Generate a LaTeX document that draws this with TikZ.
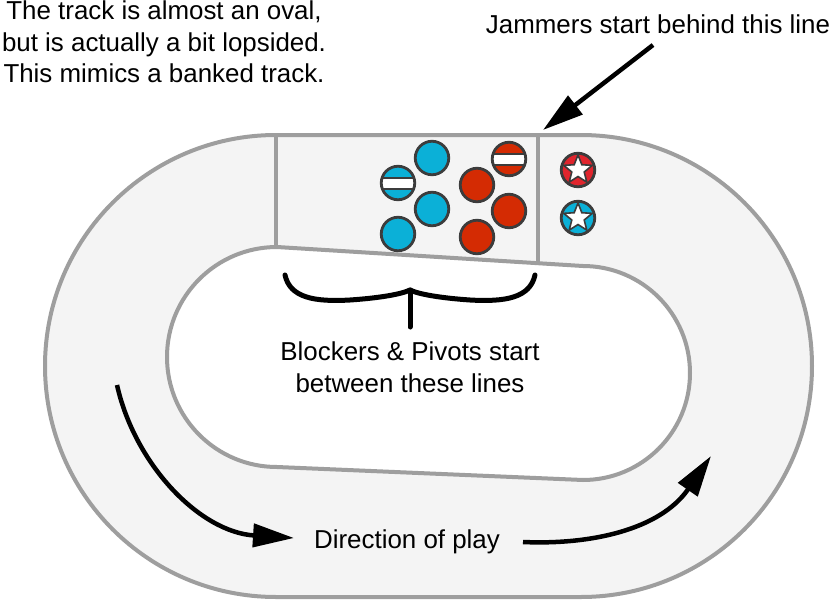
\documentclass[tikz,border=0pt]{standalone}
\usepackage{fontspec}
\setmainfont{Liberation Sans}
\usetikzlibrary{arrows.meta,shapes.geometric}
\definecolor{trackgray}{HTML}{9E9E9E}
\definecolor{trackfill}{HTML}{F4F4F4}
\definecolor{pblue}{HTML}{0BB0D7}
\definecolor{pred}{HTML}{D42B03}
\definecolor{jred}{HTML}{E0252D}
\definecolor{outl}{HTML}{3C3C3C}
\tikzset{
  trackline/.style={draw=trackgray, line width=4pt, line join=round},
  player/.style={circle, draw=outl, line width=2.8pt, minimum size=33.5pt, inner sep=0pt},
  blueblk/.style={player, fill=pblue},
  redblk/.style={player, fill=pred},
  pivotstripe/.style={path picture={
      \fill[white, draw=outl, line width=2pt]
        ([xshift=-22pt,yshift=-5.5pt]path picture bounding box.center) rectangle
        ([xshift=22pt,yshift=5.5pt]path picture bounding box.center);}},
  jamstar/.style={path picture={
      \node[star, star points=5, star point ratio=2.3, fill=white, draw=outl,
        line width=1.6pt, minimum size=30pt, inner sep=0pt]
        at (path picture bounding box.center) {};}},
  bigarrow/.style={line width=4.5pt, -{Triangle[length=41pt,width=23pt]}},
  bracestroke/.style={line width=5pt, line cap=round, line join=round},
  labeltext/.style={font=\fontsize{25.9pt}{31.7pt}\selectfont, inner sep=0pt, align=center}
}
\begin{document}
\begin{tikzpicture}[x=1pt,y=-1pt]
\useasboundingbox (0,0) rectangle (831,600);
% track
\draw[trackline, fill=trackfill] (276,135) arc[start angle=270,end angle=90,radius=231]
  -- (581,597) arc[start angle=90,end angle=-90,radius=231] -- cycle;
\draw[trackline, fill=white] (277,247) arc[start angle=270,end angle=90,radius=110]
  -- (583,480) arc[start angle=90,end angle=-90,radius=107] -- cycle;
% start lines
\draw[trackline] (276,135) -- (276,248);
\draw[trackline] (538,135) -- (538,264);
% blockers and pivots
\node[blueblk, pivotstripe] (bp) at (398,183) {};
\node[blueblk] (b1) at (432,158) {};
\node[blueblk] (b2) at (432,209) {};
\node[blueblk] (b3) at (398,234) {};
\node[redblk] (r1) at (477,185) {};
\node[redblk, pivotstripe] (rp) at (509,159) {};
\node[redblk] (r2) at (509,211) {};
\node[redblk] (r3) at (477,237) {};
% jammers
\node[player, fill=jred, jamstar] (rj) at (578,170) {};
\node[player, fill=pblue, jamstar] (bj) at (578,218) {};
% texts
\node[labeltext] (note) at (164,42) {The track is almost an oval,\\but is actually a bit lopsided.\\This mimics a banked track.};
\node[labeltext, anchor=base] (jam) at (658,33) {Jammers start behind this line};
\node[labeltext] (blk) at (410,367.5) {Blockers \& Pivots start\\between these lines};
\node[labeltext, anchor=base] (dir) at (407,548) {Direction of play};
% jammer line arrow
\coordinate (jamFrom) at (653,45);
\coordinate (jamTip) at (543,130);
\draw[bigarrow] (jamFrom) -- (jamTip);
% brace
\coordinate (braceL) at (285,275);
\coordinate (braceM) at (410,290);
\coordinate (braceR) at (535,275);
\coordinate (braceS) at (410,327);
\draw[bracestroke] (braceL) .. controls (290,298) and (315,302) .. (350,300)
  .. controls (380,298) and (402,294) .. (braceM)
  .. controls (418,294) and (440,298) .. (470,300)
  .. controls (505,302) and (530,298) .. (braceR);
\draw[bracestroke] (braceM) -- (braceS);
% direction arrows
\coordinate (lStart) at (117,385);
\coordinate (lTip) at (294,538);
\draw[bigarrow] (lStart) .. controls (135,465) and (200,532) .. (lTip);
\coordinate (rStart) at (523,542);
\coordinate (rTip) at (711,456);
\draw[bigarrow] (rStart) .. controls (590,545) and (660,530) .. (rTip);
\end{tikzpicture}
\end{document}
